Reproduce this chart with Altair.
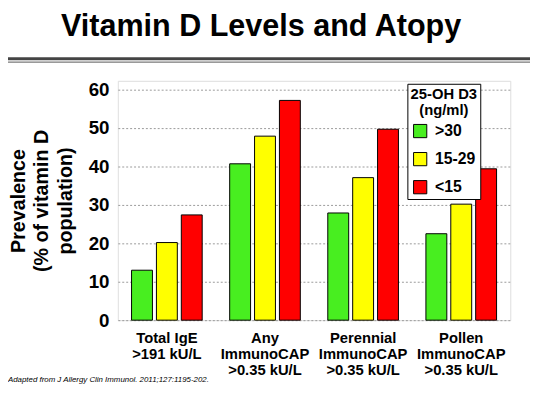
import altair as alt
import pandas as pd

categories = ["Total IgE|>191 kU/L", "Any|ImmunoCAP|>0.35 kU/L",
              "Perennial|ImmunoCAP|>0.35 kU/L", "Pollen|ImmunoCAP|>0.35 kU/L"]
levels = [">30", "15-29", "<15"]
level_colors = ["#48EE20", "#FFFF00", "#FF0000"]
vals_gt30 = [13.0, 40.7, 27.9, 22.5]
vals_15_29 = [20.2, 47.9, 37.1, 30.2]
vals_lt15 = [27.4, 57.2, 49.7, 39.4]
y_ticks = [0, 10, 20, 30, 40, 50, 60]

rows = []
for lvl, vals in zip(levels, [vals_gt30, vals_15_29, vals_lt15]):
    for c, v in zip(categories, vals):
        rows.append({"cat": c, "level": lvl, "value": v})
df = pd.DataFrame(rows)

W, H = 398.5, 243
PL, PT = 111.5, 71

bars = alt.Chart(df).mark_bar(stroke="black", strokeWidth=1).encode(
    x=alt.X("cat:N", sort=categories,
            scale=alt.Scale(paddingInner=0.28, paddingOuter=0.14),
            axis=alt.Axis(title=None, labelAngle=0, labelFont="Liberation Sans",
                          labelFontSize=15, labelFontWeight="bold", labelColor="black",
                          labelLineHeight=16, labelPadding=11, ticks=False,
                          domain=False, labelExpr="split(datum.label, '|')")),
    xOffset=alt.XOffset("level:N", sort=levels,
                        scale=alt.Scale(paddingInner=0.16, paddingOuter=0)),
    y=alt.Y("value:Q", scale=alt.Scale(domain=[0, 62.3], nice=False),
            axis=alt.Axis(values=y_ticks, title=["Prevalence", "(% of vitamin D", "population)"],
                          titleFont="Liberation Sans", titleFontSize=20, titleFontWeight="bold",
                          titleColor="black", titleLineHeight=24, titlePadding=13,
                          labelFont="Liberation Sans", labelFontSize=19, labelFontWeight="bold",
                          labelColor="black", labelPadding=9, ticks=False,
                          domain=False, grid=True, gridColor="#999999",
                          gridDash=[2, 2], gridWidth=1)),
    color=alt.Color("level:N", sort=levels,
                    scale=alt.Scale(domain=levels, range=level_colors),
                    legend=alt.Legend(title=["25-OH D3", "(ng/ml)"], orient="none",
                                      legendX=294, legendY=3,
                                      fillColor="white", strokeColor="black",
                                      padding=3, titleAnchor="middle", titleAlign="center",
                                      titleFont="Liberation Sans", titleFontSize=15,
                                      titleFontWeight="bold", titleColor="black",
                                      titleLineHeight=17, titlePadding=5,
                                      labelFont="Liberation Sans", labelFontSize=16,
                                      labelFontWeight="bold", labelColor="black",
                                      symbolType="square", symbolSize=180,
                                      symbolStrokeColor="black", symbolStrokeWidth=1,
                                      symbolOpacity=1, rowPadding=10.5, labelOffset=7)),
)

title = alt.Chart(pd.DataFrame({"t": ["Vitamin D Levels and Atopy"]})).mark_text(
    font="Liberation Sans", fontSize=31, fontWeight="bold", color="black",
    align="center", baseline="alphabetic").encode(
    text="t:N", x=alt.value(265 - 8 - PL), y=alt.value(33 - 8 - PT))

source = alt.Chart(pd.DataFrame({"t": ["Adapted from J Allergy Clin Immunol. 2011;127:1195-202."]})).mark_text(
    font="Liberation Sans", fontSize=8, fontStyle="italic", color="black",
    align="left", baseline="middle").encode(
    text="t:N", x=alt.value(8 - 8 - PL), y=alt.value(383 - 8 - PT))

line1 = alt.Chart(pd.DataFrame({"a": [0]})).mark_rule(color="#444444", strokeWidth=3).encode(
    x=alt.value(-PL), x2=alt.value(W + 30), y=alt.value(56.5 - 8 - PT))
line2 = alt.Chart(pd.DataFrame({"a": [0]})).mark_rule(color="#555555", strokeWidth=1).encode(
    x=alt.value(-PL), x2=alt.value(W + 30), y=alt.value(60 - 8 - PT))

chart = alt.layer(bars, line1, line2, title, source).properties(
    width=W, height=H,
    autosize=alt.AutoSizeParams(type="none"),
    padding={"left": PL, "top": PT, "right": 20, "bottom": 70},
).configure_view(stroke="black", strokeWidth=1.5).configure(background="white")

chart.save("out.html", embed_options={"renderer": "svg", "actions": False})
